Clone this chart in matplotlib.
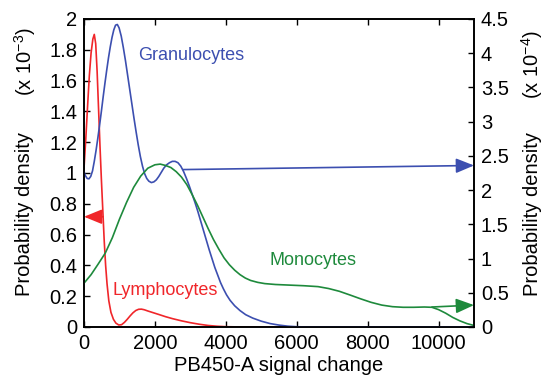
import matplotlib
matplotlib.use("Agg")
import matplotlib.pyplot as plt

plt.rcParams["font.family"] = ["Liberation Sans", "DejaVu Sans"]
plt.rcParams["mathtext.fontset"] = "custom"
plt.rcParams["mathtext.rm"] = "Liberation Sans"
plt.rcParams["mathtext.it"] = "Liberation Sans"

# Lymphocytes, left axis (x 1e-3)
lym_x = [0, 50, 100, 150, 200, 250, 290, 330, 370, 410, 450, 490, 530, 570,
         610, 650, 700, 760, 830, 900, 980, 1060, 1140, 1220, 1300, 1380,
         1460, 1540, 1620, 1700, 1800, 1950, 2100, 2300, 2500, 2750, 3000,
         3250, 3500, 3750, 4000, 4500, 11000]
lym_y = [1.03, 1.22, 1.43, 1.63, 1.78, 1.87, 1.90, 1.84, 1.66, 1.42, 1.18,
         0.96, 0.76, 0.56, 0.40, 0.28, 0.17, 0.095, 0.05, 0.025, 0.013,
         0.015, 0.03, 0.05, 0.072, 0.092, 0.107, 0.115, 0.116, 0.112, 0.104,
         0.093, 0.082, 0.067, 0.054, 0.04, 0.028, 0.018, 0.01, 0.005, 0.002,
         0.0, 0.0]

# Granulocytes, right axis (x 1e-4)
gra_x = [0, 40, 90, 140, 190, 240, 290, 340, 390, 440, 490, 540, 590, 640,
         690, 740, 790, 840, 890, 940, 990, 1050, 1110, 1170, 1230, 1290,
         1350, 1410, 1470, 1530, 1590, 1650, 1710, 1770, 1830, 1900, 1970,
         2040, 2110, 2180, 2250, 2330, 2410, 2490, 2570, 2650, 2730, 2810,
         2890, 2970, 3050, 3130, 3210, 3290, 3370, 3450, 3530, 3610, 3690,
         3770, 3850, 3930, 4020, 4120, 4250, 4400, 4560, 4760, 5000, 5250,
         5500, 5750, 6000, 6300, 11000]
gra_y = [2.27, 2.21, 2.17, 2.165, 2.20, 2.28, 2.42, 2.58, 2.76, 2.95, 3.15,
         3.36, 3.56, 3.75, 3.93, 4.09, 4.23, 4.34, 4.41, 4.42, 4.37, 4.25,
         4.08, 3.89, 3.68, 3.47, 3.26, 3.05, 2.85, 2.66, 2.49, 2.35, 2.24,
         2.17, 2.13, 2.11, 2.12, 2.15, 2.20, 2.26, 2.32, 2.37, 2.40, 2.42,
         2.42, 2.40, 2.35, 2.27, 2.17, 2.06, 1.94, 1.82, 1.69, 1.55, 1.41,
         1.27, 1.13, 1.00, 0.87, 0.76, 0.65, 0.56, 0.47, 0.39, 0.31, 0.24,
         0.18, 0.13, 0.085, 0.05, 0.028, 0.012, 0.004, 0.0, 0.0]

# Monocytes, right axis (x 1e-4)
mon_x = [0, 200, 400, 600, 800, 1000, 1200, 1400, 1600, 1800, 2000, 2150,
         2300, 2450, 2600, 2750, 2900, 3050, 3200, 3350, 3500, 3650, 3800,
         3950, 4100, 4250, 4400, 4550, 4700, 4900, 5100, 5400, 5800, 6200,
         6600, 6900, 7200, 7500, 7800, 8100, 8400, 8700, 9000, 9300, 9600,
         9813, 10000, 10200, 10400, 10600, 10800, 11000]
mon_y = [0.64, 0.765, 0.92, 1.08, 1.305, 1.575, 1.82, 2.04, 2.205, 2.32,
         2.37, 2.38, 2.36, 2.33, 2.27, 2.19, 2.08, 1.935, 1.78, 1.61, 1.44,
         1.28, 1.14, 1.01, 0.91, 0.83, 0.765, 0.715, 0.68, 0.652, 0.634,
         0.621, 0.612, 0.603, 0.59, 0.562, 0.522, 0.468, 0.412, 0.36, 0.32,
         0.297, 0.288, 0.288, 0.292, 0.288, 0.254, 0.202, 0.14, 0.09, 0.05,
         0.022]

x_ticks = [0, 2000, 4000, 6000, 8000, 10000]
left_ticks = [0, 0.2, 0.4, 0.6, 0.8, 1, 1.2, 1.4, 1.6, 1.8, 2]
left_labels = ["0", "0.2", "0.4", "0.6", "0.8", "1", "1.2", "1.4", "1.6", "1.8", "2"]
right_ticks = [0, 0.5, 1, 1.5, 2, 2.5, 3, 3.5, 4, 4.5]
right_labels = ["0", "0.5", "1", "1.5", "2", "2.5", "3", "3.5", "4", "4.5"]

RED = "#f0262a"
BLUE = "#3c4fb0"
GREEN = "#1e8a3c"
FS = 14.5

fig = plt.figure(figsize=(5.44, 3.85), dpi=100)
ax = fig.add_axes([84 / 544, 1 - 327 / 385, 390 / 544, 308 / 385])
ax2 = ax.twinx()

ax.plot(lym_x, lym_y, color=RED, lw=1.2)
ax2.plot(gra_x, gra_y, color=BLUE, lw=1.2)
ax2.plot(mon_x, mon_y, color=GREEN, lw=1.2)

ax.set_xlim(0, 11000)
ax.set_ylim(0, 2)
ax2.set_ylim(0, 4.5)

ax.set_xticks(x_ticks)
ax.set_xticklabels([str(t) for t in x_ticks], fontsize=FS)
ax.set_yticks(left_ticks)
ax.set_yticklabels(left_labels, fontsize=FS)
ax2.set_yticks(right_ticks)
ax2.set_yticklabels(right_labels, fontsize=FS)
ax.tick_params(direction="in", length=4, width=1, top=True, pad=5)
ax2.tick_params(direction="in", length=4, width=1, pad=5)
for a in (ax, ax2):
    for spine in a.spines.values():
        spine.set_linewidth(1.2)

ax.set_xlabel("PB450-A signal change", fontsize=FS, labelpad=2)

# arrows pointing at the axis each curve belongs to
arrow = dict(arrowstyle="-|>,head_length=1.1,head_width=0.45", lw=1.2,
             shrinkA=0, shrinkB=0, mutation_scale=10)
ax.annotate("", xy=(0, 0.716), xytext=(540, 0.716),
            arrowprops=dict(arrow, color=RED), annotation_clip=False)
ax2.annotate("", xy=(11000, 2.36), xytext=(2800, 2.30),
             arrowprops=dict(arrow, color=BLUE), annotation_clip=False)
ax2.annotate("", xy=(11000, 0.32), xytext=(9813, 0.292),
             arrowprops=dict(arrow, color=GREEN), annotation_clip=False)

ax.text(1523, 1.766, "Granulocytes", color=BLUE, fontsize=13, va="center")
ax.text(5228, 0.435, "Monocytes", color=GREEN, fontsize=13, va="center")
ax.text(793, 0.24, "Lymphocytes", color=RED, fontsize=13, va="center")

fig.text(25 / 544, 1 - 214 / 385, "Probability density", rotation=90,
         fontsize=FS, ha="center", va="center")
fig.text(25 / 544, 1 - 62 / 385, "(x 10$^{-3}$)", rotation=90,
         fontsize=FS, ha="center", va="center")
fig.text(532 / 544, 1 - 214 / 385, "Probability density", rotation=90,
         fontsize=FS, ha="center", va="center")
fig.text(532 / 544, 1 - 65 / 385, "(x 10$^{-4}$)", rotation=90,
         fontsize=FS, ha="center", va="center")

fig.savefig("out.png", dpi=100)
